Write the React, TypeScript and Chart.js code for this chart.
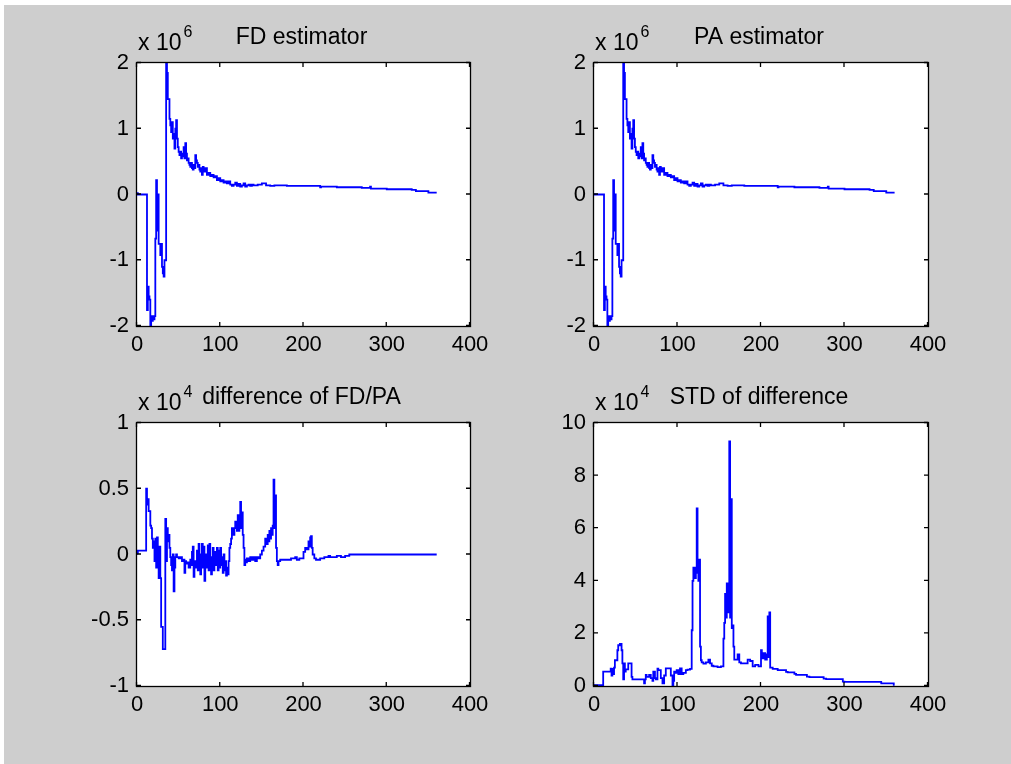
import React, { useEffect, useRef } from "react";
import { Chart, registerables } from "chart.js";

Chart.register(...registerables);

const FONT = '"Liberation Sans", Arial, Helvetica, sans-serif';

// ---- tick labels ----
const xTicks = [0, 100, 200, 300, 400];
const fdYTicks = [-2, -1, 0, 1, 2];
const diffYTicks = [-1, -0.5, 0, 0.5, 1];
const stdYTicks = [0, 2, 4, 6, 8, 10];

// ---- titles ----
const panelTitles = ["FD estimator", "PA estimator", "difference of FD/PA", "STD of difference"];
const panelExponents = ["6", "6", "4", "4"];

// ---- FD estimator (x 10^6) ----
const fdX = [0, 1, 2, 12, 13, 14, 15, 16, 17, 18, 19, 20, 21, 22, 23, 24, 25, 26, 27, 28, 29, 30, 31, 32, 33, 34, 35, 36, 37, 38, 39, 40, 41, 42, 43, 44, 45, 46, 47, 48, 49, 50, 51, 52, 53, 54, 55, 56, 57, 58, 59, 60, 61, 62, 63, 64, 65, 66, 67, 68, 69, 70, 71, 72, 73, 74, 75, 76, 77, 78, 79, 80, 82, 84, 86, 88, 90, 92, 94, 96, 98, 100, 102, 104, 106, 108, 110, 112, 114, 116, 118, 120, 122, 124, 126, 128, 130, 132, 134, 136, 138, 140, 145, 150, 155, 160, 165, 170, 180, 190, 200, 210, 220, 221, 222, 230, 240, 250, 260, 270, 280, 281, 282, 290, 300, 310, 320, 330, 335, 336, 340, 350, 360];
const fdY = [0.03, 0.02, 0, 0, -1.76, -1.4, -1.55, -1.6, -2.0, -1.85, -1.92, -1.85, -1.9, -1.85, -0.67, 0.22, -0.55, 0.0, -0.75, -0.75, -0.92, -0.75, -1.1, -1.2, -1.25, -1.0, -1.0, 2.0, 1.85, 1.45, 1.45, 1.15, 1.05, 0.95, 1.1, 0.85, 0.92, 0.7, 1.0, 1.13, 0.85, 0.72, 0.65, 0.6, 0.65, 0.55, 0.62, 0.58, 0.72, 0.55, 0.78, 0.62, 0.52, 0.55, 0.48, 0.45, 0.42, 0.48, 0.4, 0.38, 0.45, 0.4, 0.6, 0.52, 0.48, 0.42, 0.45, 0.38, 0.35, 0.4, 0.3, 0.42, 0.35, 0.4, 0.3, 0.33, 0.28, 0.3, 0.26, 0.28, 0.22, 0.25, 0.2, 0.22, 0.18, 0.2, 0.17, 0.2, 0.15, 0.13, 0.15, 0.18, 0.13, 0.16, 0.12, 0.14, 0.17, 0.12, 0.14, 0.15, 0.13, 0.15, 0.14, 0.15, 0.17, 0.14, 0.13, 0.14, 0.14, 0.13, 0.13, 0.13, 0.13, 0.11, 0.12, 0.12, 0.12, 0.11, 0.11, 0.11, 0.1, 0.12, 0.09, 0.09, 0.09, 0.08, 0.08, 0.08, 0.07, 0.05, 0.05, 0.05, 0.03];

// ---- PA estimator (x 10^6) ----
const paX = [0, 1, 2, 12, 13, 14, 15, 16, 17, 18, 19, 20, 21, 22, 23, 24, 25, 26, 27, 28, 29, 30, 31, 32, 33, 34, 35, 36, 37, 38, 39, 40, 41, 42, 43, 44, 45, 46, 47, 48, 49, 50, 51, 52, 53, 54, 55, 56, 57, 58, 59, 60, 61, 62, 63, 64, 65, 66, 67, 68, 69, 70, 71, 72, 73, 74, 75, 76, 77, 78, 79, 80, 82, 84, 86, 88, 90, 92, 94, 96, 98, 100, 102, 104, 106, 108, 110, 112, 114, 116, 118, 120, 122, 124, 126, 128, 130, 132, 134, 136, 138, 140, 145, 150, 155, 160, 165, 170, 180, 190, 200, 210, 220, 221, 222, 230, 240, 250, 260, 270, 280, 281, 282, 290, 300, 310, 320, 330, 335, 336, 340, 350, 360];
const paY = [0, 0, 0, 0, -1.76, -1.4, -1.55, -1.6, -2.0, -1.85, -1.92, -1.85, -1.9, -1.85, -0.67, 0.22, -0.55, 0.0, -0.75, -0.75, -0.92, -0.75, -1.1, -1.2, -1.25, -1.0, -1.0, 2.0, 1.85, 1.45, 1.45, 1.15, 1.05, 0.95, 1.1, 0.85, 0.92, 0.7, 1.0, 1.13, 0.85, 0.72, 0.65, 0.6, 0.65, 0.55, 0.62, 0.58, 0.72, 0.55, 0.78, 0.62, 0.52, 0.55, 0.48, 0.45, 0.42, 0.48, 0.4, 0.38, 0.45, 0.4, 0.6, 0.52, 0.48, 0.42, 0.45, 0.38, 0.35, 0.4, 0.3, 0.42, 0.35, 0.4, 0.3, 0.33, 0.28, 0.3, 0.26, 0.28, 0.22, 0.25, 0.2, 0.22, 0.18, 0.2, 0.17, 0.2, 0.15, 0.13, 0.15, 0.18, 0.13, 0.16, 0.12, 0.14, 0.17, 0.12, 0.14, 0.15, 0.13, 0.15, 0.14, 0.15, 0.17, 0.14, 0.13, 0.14, 0.14, 0.13, 0.13, 0.13, 0.13, 0.11, 0.12, 0.12, 0.12, 0.11, 0.11, 0.11, 0.1, 0.12, 0.09, 0.09, 0.09, 0.08, 0.08, 0.08, 0.07, 0.05, 0.05, 0.05, 0.03];

// ---- difference of FD/PA (x 10^4) ----
const diffX = [0, 1, 2, 11, 12, 13, 14, 15, 16, 17, 18, 19, 20, 21, 22, 23, 24, 25, 26, 27, 28, 29, 30, 31, 32, 33, 34, 35, 36, 37, 38, 39, 40, 41, 42, 43, 44, 45, 46, 47, 48, 50, 52, 54, 56, 57, 58, 59, 60, 62, 64, 65, 66, 67, 68, 69, 70, 71, 72, 73, 74, 75, 76, 77, 78, 79, 80, 81, 82, 83, 84, 85, 86, 87, 88, 89, 90, 91, 92, 93, 94, 95, 96, 97, 98, 99, 100, 101, 102, 103, 104, 105, 106, 107, 108, 109, 110, 111, 112, 113, 114, 116, 117, 118, 120, 121, 122, 123, 124, 125, 126, 127, 128, 129, 130, 131, 132, 134, 136, 138, 140, 142, 144, 146, 148, 150, 152, 154, 156, 157, 158, 159, 160, 161, 162, 163, 164, 165, 166, 167, 168, 169, 170, 172, 175, 180, 185, 190, 192, 195, 200, 202, 204, 206, 207, 208, 209, 210, 211, 213, 215, 220, 225, 230, 232, 235, 240, 245, 250, 255, 260, 300, 360];
const diffY = [0, 0.01, 0.03, 0.03, 0.5, 0.38, 0.42, 0.33, 0.33, 0.22, 0.2, 0.12, 0.05, 0.1, -0.05, 0.12, -0.1, 0.13, 0.0, -0.18, 0.06, -0.18, -0.55, -0.55, -0.72, -0.72, -0.72, 0.27, -0.05, 0.2, 0.1, 0.15, 0.05, -0.02, -0.08, -0.12, 0.0, -0.28, -0.1, -0.02, 0.0, -0.02, -0.03, -0.02, -0.05, -0.04, -0.14, -0.05, -0.07, -0.06, -0.1, -0.04, -0.08, 0.02, 0.06, -0.17, -0.05, -0.1, -0.05, 0.03, -0.12, 0.08, 0.0, -0.15, -0.02, 0.08, -0.1, 0.06, -0.2, 0.0, -0.1, -0.05, 0.07, -0.12, 0.08, -0.05, -0.15, -0.02, 0.05, -0.12, 0.02, -0.08, -0.04, 0.05, -0.12, 0.03, -0.1, 0.05, -0.08, -0.02, -0.14, 0.0, -0.12, -0.05, -0.16, -0.1, -0.15, -0.05, 0.05, 0.08, 0.12, 0.2, 0.15, 0.2, 0.25, 0.18, 0.3, 0.18, 0.25, 0.4, 0.2, 0.32, 0.15, 0.05, -0.08, -0.04, -0.06, -0.03, -0.05, -0.02, -0.04, -0.02, -0.05, -0.02, -0.03, 0.0, 0.03, 0.06, 0.12, 0.08, 0.15, 0.1, 0.18, 0.12, 0.2, 0.15, 0.22, 0.57, 0.2, 0.45, 0.05, -0.05, -0.08, -0.05, -0.04, -0.04, -0.04, -0.03, -0.02, -0.04, -0.03, 0.02, 0.05, 0.04, 0.1, 0.06, 0.13, 0.14, 0.05, 0.0, -0.03, -0.04, -0.03, -0.02, -0.01, -0.02, -0.02, -0.01, -0.02, -0.01, 0.0, 0.0, 0.0];

// ---- STD of difference (x 10^4) ----
const stdX = [0, 11, 12, 20, 21, 22, 23, 24, 25, 26, 28, 29, 31, 33, 34, 35, 36, 37, 38, 39, 41, 42, 45, 46, 47, 60, 61, 62, 63, 66, 68, 70, 71, 73, 74, 76, 77, 80, 82, 84, 86, 88, 92, 94, 95, 96, 97, 99, 101, 103, 105, 107, 110, 112, 115, 117, 118, 119, 121, 122, 123, 124, 125, 126, 127, 128, 129, 131, 134, 137, 139, 141, 143, 148, 152, 155, 156, 157, 158, 159, 160, 161, 162, 163, 164, 165, 166, 167, 168, 169, 172, 174, 176, 180, 184, 187, 190, 193, 197, 200, 201, 203, 205, 207, 208, 209, 210, 211, 212, 214, 220, 222, 230, 232, 240, 242, 255, 258, 275, 278, 298, 300, 344, 345, 359, 360];
const stdY = [0.03, 0.03, 0.55, 0.55, 0.66, 0.4, 0.65, 0.45, 0.7, 0.98, 0.98, 1.36, 1.55, 1.6, 1.36, 0.86, 0.25, 0.86, 0.55, 0.63, 0.63, 0.86, 0.86, 0.35, 0.25, 0.25, 0.1, 0.25, 0.42, 0.35, 0.42, 0.3, 0.2, 0.55, 0.3, 0.25, 0.66, 0.6, 0.3, 0.1, 0.4, 0.67, 0.67, 0.4, 0.03, 0.2, 0.55, 0.5, 0.6, 0.45, 0.67, 0.45, 0.5, 0.6, 0.62, 0.65, 2.12, 4.0, 4.5, 4.1, 4.5, 6.75, 4.3, 4.0, 4.8, 1.5, 0.98, 0.9, 0.85, 0.9, 1.0, 0.86, 0.77, 0.75, 0.72, 0.75, 1.8, 2.4, 3.5, 2.6, 3.9, 2.8, 3.9, 9.3, 2.6, 7.1, 2.2, 2.3, 1.5, 1.0, 1.0, 1.2, 0.9, 0.86, 0.86, 1.0, 0.95, 0.75, 0.8, 0.75, 1.36, 1.05, 1.25, 1.0, 1.2, 2.65, 1.1, 2.8, 0.7, 0.7, 0.65, 0.6, 0.6, 0.54, 0.52, 0.46, 0.42, 0.36, 0.34, 0.28, 0.26, 0.17, 0.16, 0.1, 0.1, 0.04];

type Area = { left: number; top: number; w: number; h: number };

const PADL = 100;
const PADT = 62;
const PADR = 45;
const PADB = 48;

const framePlugin = {
  id: "frame",
  beforeDraw(chart: any) {
    const { ctx, chartArea: a } = chart;
    ctx.save();
    ctx.fillStyle = "#ffffff";
    ctx.fillRect(a.left, a.top, a.right - a.left, a.bottom - a.top);
    ctx.restore();
  },
  afterDraw(chart: any, _args: any, opts: any) {
    const { ctx, chartArea: a, scales } = chart;
    ctx.save();
    ctx.strokeStyle = "#000000";
    ctx.lineWidth = 1.3;
    ctx.strokeRect(a.left - 0.5, a.top - 0.5, a.right - a.left + 1, a.bottom - a.top + 1);
    const L = 4;
    ctx.beginPath();
    scales.x.ticks.forEach((t: any) => {
      const px = scales.x.getPixelForValue(t.value) - 0.5;
      ctx.moveTo(px, a.bottom);
      ctx.lineTo(px, a.bottom - L);
      ctx.moveTo(px, a.top);
      ctx.lineTo(px, a.top + L);
    });
    scales.y.ticks.forEach((t: any) => {
      const py = scales.y.getPixelForValue(t.value) - 0.5;
      ctx.moveTo(a.left, py);
      ctx.lineTo(a.left + L, py);
      ctx.moveTo(a.right, py);
      ctx.lineTo(a.right - L, py);
    });
    ctx.stroke();

    ctx.fillStyle = "#000000";
    ctx.textBaseline = "alphabetic";
    // title
    ctx.font = `23px ${FONT}`;
    ctx.textAlign = "center";
    ctx.fillText(opts.title, (a.left + a.right) / 2 - 2, a.top - 19);
    // exponent label
    ctx.textAlign = "left";
    const base = "x 10";
    ctx.fillText(base, a.left + 1, a.top - 13);
    const bw = ctx.measureText(base).width;
    ctx.font = `16px ${FONT}`;
    ctx.fillText(opts.exponent, a.left + 1 + bw + 2, a.top - 26);
    ctx.restore();
  },
};

function Panel(props: {
  area: Area;
  xs: number[];
  ys: number[];
  yTicks: number[];
  title: string;
  exponent: string;
}) {
  const { area, xs, ys, yTicks, title, exponent } = props;
  const ref = useRef<HTMLCanvasElement>(null);
  const cw = area.w + PADL + PADR;
  const ch = area.h + PADT + PADB;

  useEffect(() => {
    if (!ref.current) return;
    const zeroPad = (s: any) => {
      s.paddingLeft = 0;
      s.paddingRight = 0;
      s.paddingTop = 0;
      s.paddingBottom = 0;
    };
    const chart = new Chart(ref.current, {
      type: "line",
      data: {
        datasets: [
          {
            data: xs.map((x, i) => ({ x, y: ys[i] })),
            borderColor: "#0000ff",
            borderWidth: 1.8,
            pointRadius: 0,
            tension: 0,
            stepped: "after",
            fill: false,
          },
        ],
      },
      options: {
        animation: false,
        responsive: false,
        maintainAspectRatio: false,
        events: [],
        layout: { padding: { left: 0, top: PADT, right: PADR, bottom: 0 } },
        plugins: {
          legend: { display: false },
          tooltip: { enabled: false },
          title: { display: false },
          frame: { title, exponent },
        } as any,
        scales: {
          x: {
            type: "linear",
            min: xTicks[0],
            max: xTicks[xTicks.length - 1],
            grid: { display: false, drawTicks: false },
            border: { display: false },
            ticks: {
              autoSkip: false,
              maxRotation: 0,
              padding: 6,
              color: "#000000",
              font: { size: 22, family: FONT },
              callback: (v: any) => String(v),
            },
            afterBuildTicks: (s: any) => {
              s.ticks = xTicks.map((v) => ({ value: v }));
            },
            afterFit: (s: any) => {
              s.height = PADB;
              zeroPad(s);
            },
          },
          y: {
            type: "linear",
            min: yTicks[0],
            max: yTicks[yTicks.length - 1],
            grid: { display: false, drawTicks: false },
            border: { display: false },
            ticks: {
              autoSkip: false,
              padding: 8,
              color: "#000000",
              font: { size: 22, family: FONT },
              callback: (v: any) => String(v),
            },
            afterBuildTicks: (s: any) => {
              s.ticks = yTicks.map((v) => ({ value: v }));
            },
            afterFit: (s: any) => {
              s.width = PADL;
              zeroPad(s);
            },
          },
        },
      },
      plugins: [framePlugin as any],
    });
    return () => chart.destroy();
  }, []);

  return (
    <canvas
      ref={ref}
      width={cw}
      height={ch}
      style={{
        position: "absolute",
        left: area.left - PADL,
        top: area.top - PADT,
        width: cw,
        height: ch,
      }}
    />
  );
}

export default function App() {
  return (
    <div
      style={{
        position: "absolute",
        left: 0,
        top: 0,
        width: 1011,
        height: 764,
        overflow: "hidden",
        background: "#ffffff",
      }}
    >
      <div
        style={{
          position: "absolute",
          left: 4,
          top: 5,
          width: 1007,
          height: 759,
          background: "#cecece",
        }}
      />
      <Panel area={{ left: 137, top: 63, w: 333, h: 263 }} xs={fdX} ys={fdY} yTicks={fdYTicks} title={panelTitles[0]} exponent={panelExponents[0]} />
      <Panel area={{ left: 594, top: 63, w: 334, h: 263 }} xs={paX} ys={paY} yTicks={fdYTicks} title={panelTitles[1]} exponent={panelExponents[1]} />
      <Panel area={{ left: 137, top: 423, w: 333, h: 263 }} xs={diffX} ys={diffY} yTicks={diffYTicks} title={panelTitles[2]} exponent={panelExponents[2]} />
      <Panel area={{ left: 594, top: 423, w: 334, h: 263 }} xs={stdX} ys={stdY} yTicks={stdYTicks} title={panelTitles[3]} exponent={panelExponents[3]} />
    </div>
  );
}
